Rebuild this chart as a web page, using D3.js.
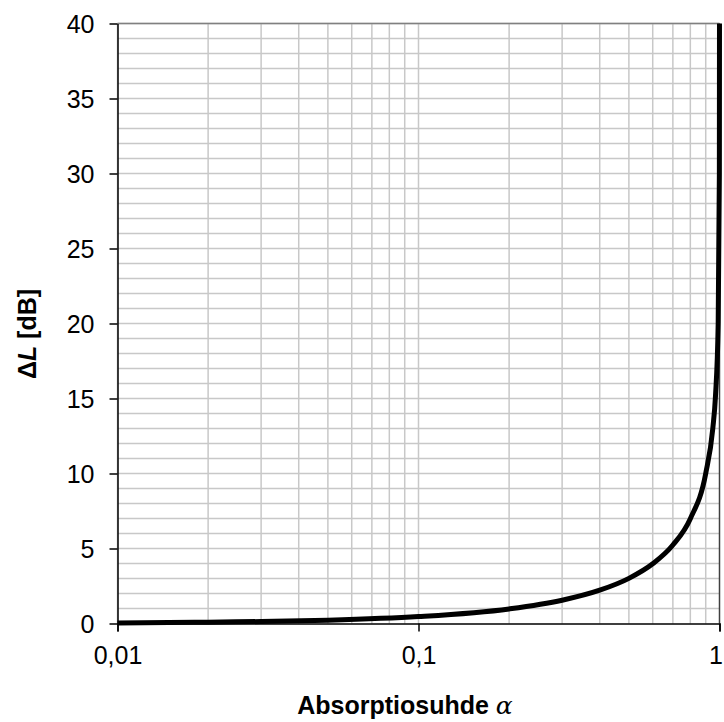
<!DOCTYPE html>
<html>
<head>
<meta charset="utf-8">
<script src="https://cdn.jsdelivr.net/npm/d3@7"></script>
<style>
  body { margin: 0; background: #fff; }
  text { font-family: "Liberation Sans", Arial, sans-serif; }
</style>
</head>
<body>
<div id="chart"></div>
<script>
// values
const alpha = [0.01, 0.02, 0.03, 0.05, 0.1, 0.2, 0.3, 0.4, 0.5, 0.6, 0.7, 0.8, 0.9, 0.95, 0.97, 0.99, 0.999, 0.9999];
const deltaL = [0.04, 0.09, 0.13, 0.22, 0.46, 0.97, 1.55, 2.22, 3.01, 3.98, 5.23, 6.99, 10.0, 13.0, 15.2, 20.0, 30.0, 40.0];
const xTicks = [0.01, 0.1, 1];
const xTickLabels = ["0,01", "0,1", "1"];
const yTicks = [0, 5, 10, 15, 20, 25, 30, 35, 40];

const width = 724, height = 722;
const margin = {top: 23.5, right: 4.5, bottom: 98.5, left: 117.5};

const svg = d3.select("#chart")
  .append("svg")
    .attr("width", width)
    .attr("height", height);

const x = d3.scaleLog()
  .domain([0.01, 1])
  .range([margin.left, width - margin.right]);

const y = d3.scaleLinear()
  .domain([0, 40])
  .range([height - margin.bottom, margin.top]);

// minor grid: vertical at 1..9 of each decade, horizontal every 1 dB
const vGrid = [];
[0.01, 0.1].forEach(function(d) {
  for (let k = 1; k <= 9; k++) vGrid.push(d * k);
});
svg.append("g")
  .selectAll("line")
  .data(vGrid)
  .enter()
  .append("line")
    .attr("x1", function(d) { return x(d); })
    .attr("x2", function(d) { return x(d); })
    .attr("y1", y(0))
    .attr("y2", y(40))
    .attr("stroke", "#c8c8c8")
    .attr("stroke-width", 1.5);

svg.append("g")
  .selectAll("line")
  .data(d3.range(1, 41))
  .enter()
  .append("line")
    .attr("x1", x(0.01))
    .attr("x2", x(1))
    .attr("y1", function(d) { return y(d); })
    .attr("y2", function(d) { return y(d); })
    .attr("stroke", "#c8c8c8")
    .attr("stroke-width", 1.5);

// frame top + right
svg.append("line")
  .attr("x1", x(0.01)).attr("x2", x(1))
  .attr("y1", y(40)).attr("y2", y(40))
  .attr("stroke", "#808080").attr("stroke-width", 1.5);
svg.append("line")
  .attr("x1", x(1)).attr("x2", x(1))
  .attr("y1", y(40)).attr("y2", y(0))
  .attr("stroke", "#404040").attr("stroke-width", 1.5);

// axes
const xAxis = svg.append("g")
  .attr("transform", "translate(0," + y(0) + ")")
  .call(d3.axisBottom(x).tickValues(xTicks).tickSize(8).tickFormat(function(d, i) { return xTickLabels[i]; }));
xAxis.select(".domain").attr("stroke", "#000").attr("stroke-width", 1.5);
xAxis.selectAll(".tick line").attr("stroke", "#000").attr("stroke-width", 1.5).attr("y1", 0);
xAxis.selectAll(".tick text")
  .attr("y", 0)
  .attr("dy", 40)
  .attr("dx", function(d) { return d === 1 ? -4 : 0; })
  .style("font-size", "25px")
  .style("fill", "#000");

const yAxis = svg.append("g")
  .attr("transform", "translate(" + x(0.01) + ",0)")
  .call(d3.axisLeft(y).tickValues(yTicks).tickSize(8).tickSizeOuter(0));
yAxis.select(".domain").attr("stroke", "#000").attr("stroke-width", 1.5);
yAxis.selectAll(".tick line").attr("stroke", "#000").attr("stroke-width", 1.5);
yAxis.selectAll(".tick text")
  .attr("x", -23)
  .attr("dy", "0.36em")
  .style("font-size", "25px")
  .style("fill", "#000");

// curve
const line = d3.line()
  .x(function(d, i) { return x(alpha[i]); })
  .y(function(d) { return y(d); })
  .curve(d3.curveMonotoneX);

svg.append("path")
  .datum(deltaL)
  .attr("d", line)
  .attr("fill", "none")
  .attr("stroke", "#000")
  .attr("stroke-width", 5)
  .attr("stroke-linejoin", "round");

// titles
const xt = svg.append("text")
  .attr("x", 405)
  .attr("y", 714)
  .attr("text-anchor", "middle")
  .style("font-size", "25px")
  .style("font-weight", "bold");
xt.append("tspan").text("Absorptiosuhde ");
xt.append("tspan")
  .style("font-family", "'DejaVu Serif', serif")
  .style("font-style", "italic")
  .style("font-weight", "normal")
  .text("α");

const yt = svg.append("text")
  .attr("transform", "translate(36,334) rotate(-90)")
  .attr("text-anchor", "middle")
  .style("font-size", "25px")
  .style("font-weight", "bold");
yt.append("tspan").text("Δ");
yt.append("tspan").style("font-style", "italic").text("L");
yt.append("tspan").text(" [dB]");
</script>
</body>
</html>
